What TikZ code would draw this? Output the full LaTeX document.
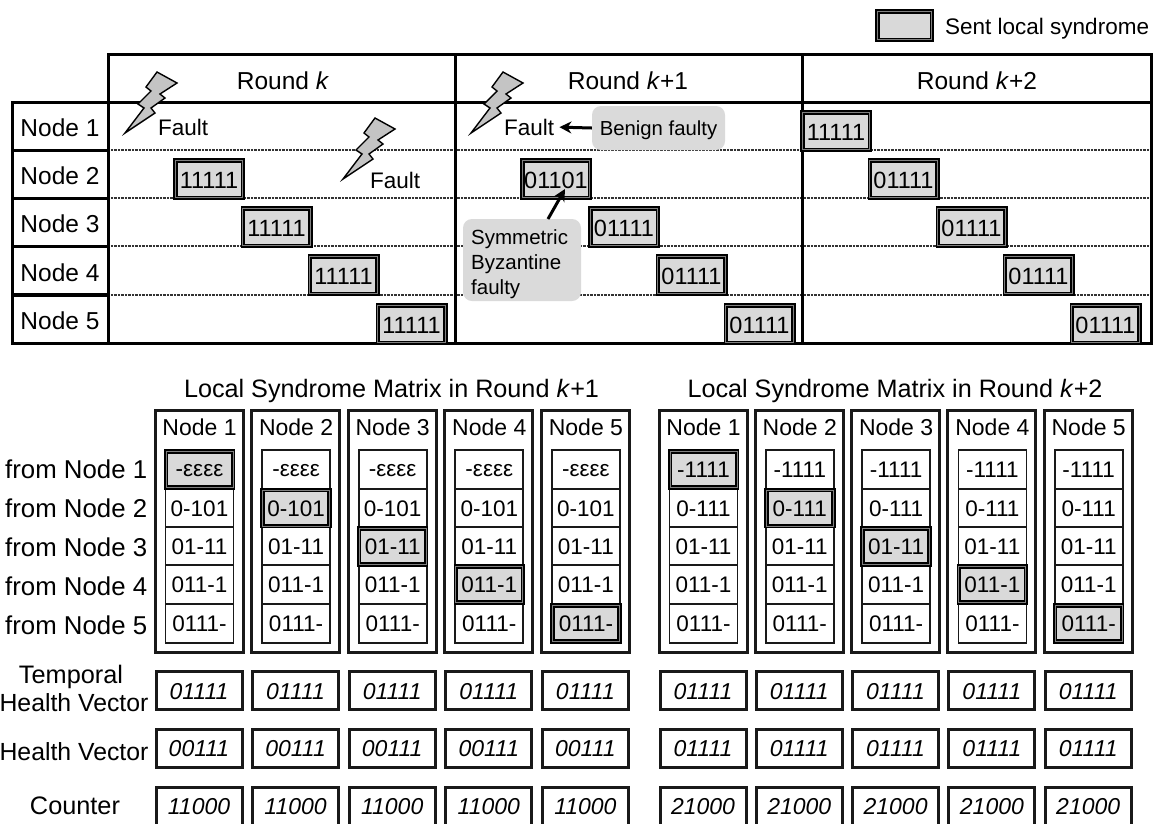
\documentclass[tikz,border=0pt]{standalone}
\usepackage{fontspec}
\setmainfont{Liberation Sans}
\usetikzlibrary{arrows.meta,calc}
\newcommand{\fsz}[1]{\fontsize{#1}{#1}\selectfont}
\newcommand{\lowered}[2]{\raisebox{-#1}[\height][\depth]{#2}}
\definecolor{boxgray}{HTML}{D9D9D9}
\definecolor{noteg}{HTML}{DADADA}
\definecolor{boltg}{HTML}{C4C4C4}
\tikzset{
  sentbox/.style={draw=black,line width=1.8pt,double=black!50,double distance=.9pt,fill=boxgray,inner sep=0pt,text=black},
  sentsmall/.style={sentbox,minimum width=67.5pt,minimum height=37.5pt,font=\fsz{23.5}},
  headcell/.style={font=\fsz{24.5},inner sep=0pt},
  rowcell/.style={draw=black,line width=3pt,minimum width=96pt,minimum height=48pt,font=\fsz{24.5},inner sep=0pt},
  tablebox/.style={draw=black,line width=3pt},
  rowline/.style={draw=black!80,line width=1.3pt,dash pattern=on 1pt off .4pt},
  colbox/.style={draw=black!90,line width=3pt,inner sep=0pt},
  cellbox/.style={draw=black!90,line width=1.7pt,fill=white,minimum width=68pt,minimum height=38.5pt,inner sep=0pt,font=\fsz{22.5}},
  cellsent/.style={sentbox,minimum width=67pt,minimum height=36pt,font=\fsz{22.5}},
  vecbox/.style={draw=black!90,line width=3pt,minimum width=86pt,minimum height=38pt,inner sep=0pt,font=\fsz{23}\itshape},
  sidelabel/.style={font=\fsz{25.3},inner sep=0pt},
  notebox/.style={fill=noteg,rounded corners=9pt,inner sep=0pt},
  bolt/.style={draw=black,line width=1.4pt,fill=boltg,line join=miter},
  faultlabel/.style={font=\fsz{22.5},inner sep=0pt},
  titlelabel/.style={font=\fsz{25.2},inner sep=0pt},
  pointer/.style={draw=black,line width=3pt,-{Stealth[length=12pt,width=12pt]}}
}
\newcommand{\boltat}[2]{%
  \draw[bolt,shift={(#1,#2)}] (157,72)--(177,83)--(160,94)--(165,98)--(151,108)--(155,113)--(125,133)--(144,108)--(138,104)--(151,91)--(146,87)--cycle;}
\begin{document}
\begin{tikzpicture}[x=1pt,y=-1pt]
\useasboundingbox (0,0) rectangle (1160,823);
\clip (0,0) rectangle (1160,823);
\fill[white] (0,0) rectangle (1160,823);
% legend
\node[sentbox,minimum width=54.5pt,minimum height=28.5pt] (legend) at (904.5,25.5) {};
\node[font=\fsz{22.5},anchor=west,inner sep=0pt] (legendtext) at (945,28.5) {Sent local syndrome};
% table
\foreach \y in {150,198,246,295}{\draw[rowline] (108,\y)--(1151,\y);}
\draw[tablebox] (108,54) rectangle (1151,343);
\draw[tablebox] (108,102)--(1151,102);
\draw[tablebox] (455,54)--(455,343);
\draw[tablebox] (802,54)--(802,343);
\foreach \i/\y in {1/126,2/174,3/222,4/270.5,5/319}{
  \node[rowcell] (row\i) at (60,\y) {\lowered{2pt}{Node \i}};
}
\node[headcell] (rk0) at (283,81) {Round \textit{k}};
\node[headcell] (rk1) at (628,81) {Round \textit{k}+1};
\node[headcell] (rk2) at (977,81) {Round \textit{k}+2};
% bolts
\boltat{0}{0}
\boltat{218}{46}
\boltat{346}{0}
\node[faultlabel,anchor=west] (f1) at (158,127) {Fault};
\node[faultlabel,anchor=west] (f2) at (370,180) {Fault};
\node[faultlabel,anchor=west] (f3) at (504,127) {Fault};
% sent boxes
\foreach \n/\x/\y/\t in {a1/209/179/11111,a2/276.5/227/11111,a3/343.5/275/11111,a4/411.5/324/11111,
  b1/556/179/01101,b2/624/227/01111,b3/691.5/275/01111,b4/759.5/324/01111,
  c0/836/131/11111,c1/903.5/179/01111,c2/971.5/227/01111,c3/1038.5/275/01111,c4/1105.5/324/01111}{
  \node[sentsmall] (s\n) at (\x,\y) {\lowered{1pt}{\t}};
}
% notes
\node[notebox,minimum width=133pt,minimum height=44pt,font=\fsz{20.3}] (benign) at (658.5,128) {\lowered{2pt}{Benign faulty}};
\node[notebox,minimum width=118pt,minimum height=82pt] (sym) at (522,260) {};
\node[font=\fsz{20.5},inner sep=0pt,anchor=west] (sym1) at (471,239) {Symmetric};
\node[font=\fsz{20.5},inner sep=0pt,anchor=west] (sym2) at (471,264) {Byzantine};
\node[font=\fsz{20.5},inner sep=0pt,anchor=west] (sym3) at (471,289) {faulty};
\coordinate (symtip) at (565,189);
\coordinate (symtail) at (548,219);
\draw[pointer,shorten >=5pt] (benign.west) -- (f3.east);
\draw[pointer] (symtail) -- (symtip);
% titles
\node[titlelabel] (t1) at (391.5,390.5) {Local Syndrome Matrix in Round \textit{k}+1};
\node[titlelabel] (t2) at (895,390.5) {Local Syndrome Matrix in Round \textit{k}+2};
% side labels
\foreach \i/\y in {1/469,2/508,3/547,4/586,5/625}{
  \node[sidelabel,anchor=west,font=\fsz{25.8}] (from\i) at (5,\y) {from Node \i};
}
\node[sidelabel] (lt1) at (71,677) {Temporal};
\node[sidelabel,font=\fsz{24.8}] (lt2) at (74,703) {Health Vector};
\node[sidelabel,font=\fsz{24.8}] (lh) at (74,752) {Health Vector};
\node[sidelabel] (lc) at (75,806) {Counter};
% matrices
\newcommand{\matrixset}[7]{%
  % #1 prefix, #2 x0, #3 pitch, #4 first row string, #5 second row, #6 health, #7 counter
  \foreach \c [evaluate=\c as \cx using {#2+#3*(\c-1)}] in {1,...,5}{
    \draw[colbox] (\cx-44,410) rectangle (\cx+44,652);
    \node[font=\fsz{23},inner sep=0pt] (#1h\c) at (\cx+.5,427.5) {Node \c};
    \foreach \r/\y/\t in {1/469.5/{#4},2/508/{#5},3/546.5/{01-11},4/584.5/{011-1},5/623.5/{0111-}}{
      \node[cellbox] (#1c\c r\r) at (\cx+.5,\y) {\lowered{.7pt}{\t}};
    }
    \node[vecbox] (#1t\c) at (\cx,690) {\lowered{1.5pt}{01111}};
    \node[vecbox] (#1v\c) at (\cx,748) {\lowered{1pt}{#6}};
    \node[vecbox] (#1k\c) at (\cx,806) {\lowered{1pt}{#7}};
  }
  \foreach \c/\y/\t in {1/469.5/{#4},2/508/{#5},3/546.5/{01-11},4/584.5/{011-1},5/623.5/{0111-}}{
    \pgfmathsetmacro{\cx}{#2+#3*(\c-1)}
    \node[cellsent] (#1s\c) at (\cx+.5,\y) {\lowered{.7pt}{\t}};
  }
}
\matrixset{p}{199}{96.6}{-εεεε}{0-101}{00111}{11000}
\matrixset{q}{703}{96.3}{-1111}{0-111}{01111}{21000}
\end{tikzpicture}
\end{document}
